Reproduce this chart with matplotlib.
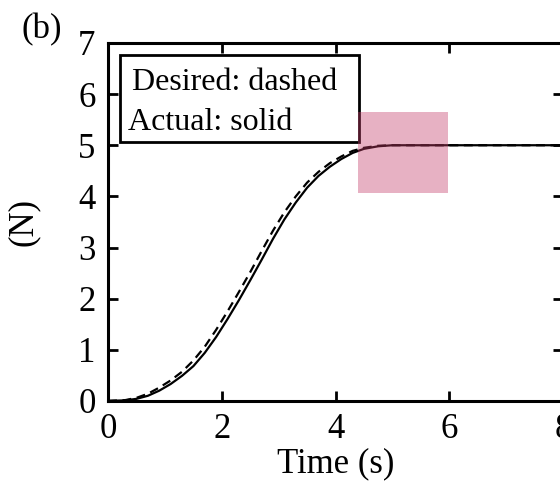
import matplotlib
matplotlib.use("Agg")
import matplotlib.pyplot as plt
from matplotlib.patches import Rectangle

plt.rcParams["font.family"] = ["Liberation Serif", "DejaVu Serif"]

# values
t_actual = [0.0, 0.3, 0.5, 0.7, 0.9, 1.1, 1.3, 1.5, 1.7, 1.9, 2.1, 2.3, 2.5,
            2.7, 2.9, 3.1, 3.3, 3.5, 3.7, 3.9, 4.1, 4.3, 4.5, 4.75, 5.0, 8.0]
f_actual = [0.0, 0.01, 0.04, 0.1, 0.2, 0.33, 0.49, 0.68, 0.94, 1.25, 1.6, 1.97,
            2.36, 2.76, 3.17, 3.55, 3.88, 4.17, 4.4, 4.58, 4.73, 4.85, 4.93,
            4.98, 5.0, 5.0]
t_desired = [0.0, 0.3, 0.5, 0.7, 0.9, 1.1, 1.3, 1.5, 1.7, 1.9, 2.1, 2.3, 2.5,
             2.7, 2.9, 3.1, 3.3, 3.5, 3.7, 3.9, 4.1, 4.3, 4.5, 4.75, 5.0, 8.0]
f_desired = [0.0, 0.015, 0.06, 0.14, 0.26, 0.4, 0.57, 0.79, 1.06, 1.39, 1.75,
             2.13, 2.52, 2.93, 3.33, 3.69, 4.0, 4.27, 4.48, 4.65, 4.78, 4.89,
             4.95, 4.99, 5.0, 5.0]
x_ticks = [0, 2, 4, 6, 8]
y_ticks = [0, 1, 2, 3, 4, 5, 6, 7]

fig = plt.figure(figsize=(5.6, 4.83), dpi=100)
ax = fig.add_axes([0.193, 0.170, 0.8125, 0.741])

ax.plot(t_actual, f_actual, color="black", lw=1.6)
ax.plot(t_desired, f_desired, color="black", lw=1.6, linestyle=(0, (4, 2.5)))

ax.set_xlim(0, 8)
ax.set_ylim(0, 7)
ax.set_xticks(x_ticks)
ax.set_yticks(y_ticks)
ax.tick_params(direction="in", length=7, width=2, labelsize=25,
               top=True, right=True, pad=9)
for s in ax.spines.values():
    s.set_linewidth(2.2)

ax.set_xlabel("Time (s)", fontsize=25)
ax.set_ylabel("(N)", fontsize=25)
ax.xaxis.set_label_coords(0.5, -0.13)
ax.yaxis.set_label_coords(-0.15, 0.5)

# legend box
ax.add_patch(Rectangle((0.21, 5.07), 4.21, 1.70, facecolor="white",
                       edgecolor="black", lw=2, zorder=3))
ax.text(0.42, 6.09, "Desired: dashed", fontsize=23, va="baseline", zorder=4)
ax.text(0.35, 5.30, "Actual: solid", fontsize=23, va="baseline", zorder=4)

# highlight square
ax.add_patch(Rectangle((4.40, 4.07), 1.57, 1.58, facecolor="#c53e69",
                       alpha=0.4, lw=0, zorder=5))

fig.text(0.075, 0.938, "(b)", fontsize=25, ha="center", va="center")

fig.savefig("out.png", dpi=100)
